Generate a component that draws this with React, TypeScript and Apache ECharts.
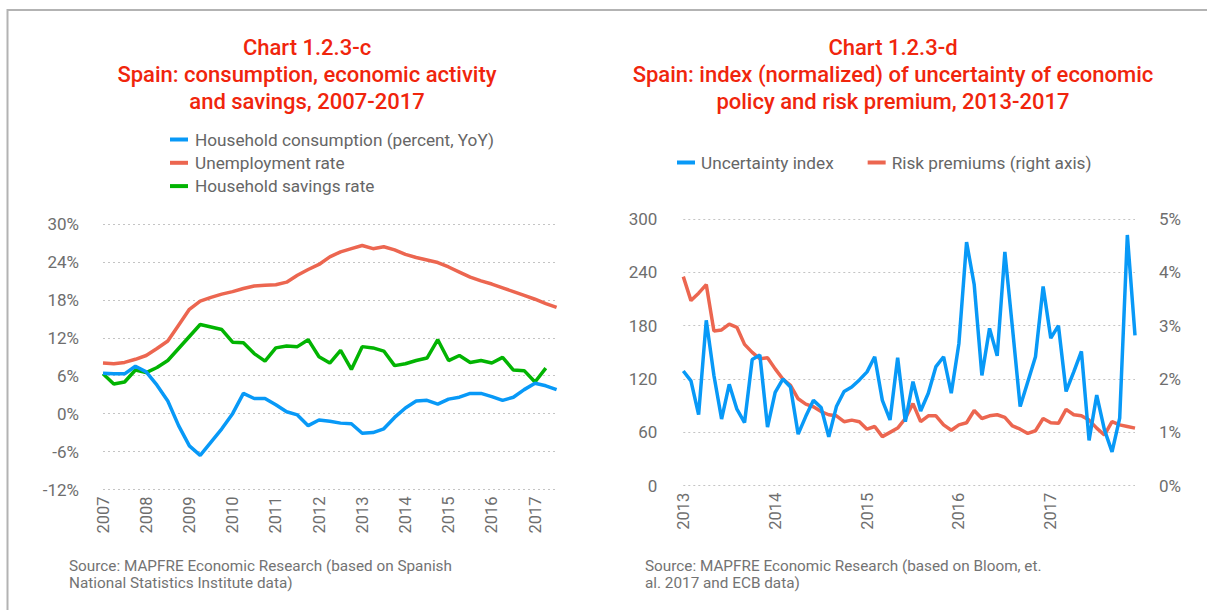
import React, { useEffect, useRef } from "react";
import * as echarts from "echarts";

// ---------- Left chart (quarterly, 2007Q1 - 2017Q3) ----------
const quarterYears = [2007, 2008, 2009, 2010, 2011, 2012, 2013, 2014, 2015, 2016, 2017];
const quarterCount = 43;
const consumption = [
  6.4, 6.3, 6.3, 7.5, 6.6, 4.5, 2.0, -1.9, -5.1, -6.6, -4.5, -2.4, 0.0, 3.2, 2.4, 2.4,
  1.4, 0.3, -0.2, -1.9, -1.0, -1.2, -1.5, -1.6, -3.1, -3.0, -2.4, -0.6, 0.9, 2.0, 2.1,
  1.5, 2.3, 2.6, 3.2, 3.2, 2.7, 2.1, 2.6, 3.8, 4.8, 4.4, 3.8,
];
const unemployment = [
  8.0, 7.9, 8.1, 8.6, 9.2, 10.3, 11.5, 14.0, 16.5, 17.8, 18.4, 18.9, 19.3, 19.8, 20.2,
  20.3, 20.4, 20.8, 21.9, 22.8, 23.6, 24.8, 25.6, 26.1, 26.6, 26.1, 26.4, 25.9, 25.2,
  24.7, 24.3, 23.9, 23.2, 22.4, 21.6, 21.0, 20.5, 19.9, 19.3, 18.7, 18.1, 17.4, 16.8,
];
const savings = [
  6.3, 4.7, 5.0, 6.9, 6.5, 7.3, 8.4, 10.3, 12.2, 14.1, 13.7, 13.3, 11.3, 11.2, 9.5, 8.3,
  10.4, 10.7, 10.6, 11.7, 9.0, 8.0, 10.0, 7.0, 10.6, 10.4, 9.9, 7.6, 7.9, 8.4, 8.8, 11.7,
  8.4, 9.2, 8.1, 8.4, 8.0, 8.9, 6.9, 6.8, 5.0, 7.2, null,
];
const leftTicks = [-12, -6, 0, 6, 12, 18, 24, 30];

// ---------- Right chart (monthly, Jan 2013 - Dec 2017) ----------
const monthYears = [2013, 2014, 2015, 2016, 2017];
const uncertainty = [
  129, 118, 80, 186, 124, 75, 114, 86, 71, 142, 147, 66, 105, 120, 111, 58, 78, 96, 88,
  55, 89, 106, 111, 119, 128, 145, 96, 74, 144, 72, 117, 84, 104, 134, 145, 104, 160,
  274, 226, 124, 177, 146, 263, 177, 89, 117, 145, 224, 166, 180, 106, 128, 151, 51,
  102, 63, 38, 76, 282, 169,
];
const riskPremium = [
  3.92, 3.47, 3.61, 3.77, 2.9, 2.92, 3.03, 2.97, 2.65, 2.5, 2.38, 2.4, 2.19, 2.0, 1.88,
  1.63, 1.53, 1.48, 1.39, 1.33, 1.31, 1.2, 1.23, 1.2, 1.06, 1.11, 0.92, 1.0, 1.08, 1.26,
  1.54, 1.2, 1.31, 1.31, 1.14, 1.04, 1.14, 1.18, 1.41, 1.26, 1.31, 1.33, 1.28, 1.12,
  1.06, 0.98, 1.03, 1.26, 1.18, 1.17, 1.43, 1.33, 1.31, 1.23, 1.08, 0.95, 1.2, 1.14,
  1.11, 1.08,
];

const quarterCats: string[] = [];
quarterYears.forEach((y) => {
  for (let q = 1; q <= 4; q++) quarterCats.push(`${y}-Q${q}`);
});
const quarterCategories = quarterCats.slice(0, quarterCount);

const monthCategories: string[] = [];
monthYears.forEach((y) => {
  for (let m = 1; m <= 12; m++) monthCategories.push(`${y}-${m < 10 ? "0" + m : m}`);
});

const FONT = "Roboto, 'DejaVu Sans', sans-serif";
const RED = "#f0250c";
const BLUE = "#0899f7";
const ORANGE = "#ec6650";
const GREEN = "#02b402";
const AXIS_TEXT = "#6e6e6e";
const GRID_LINE = { type: [2, 3] as any, color: "#c4c4c4", width: 1 };

export default function App() {
  const ref = useRef<HTMLDivElement>(null);

  useEffect(() => {
    if (!ref.current) return;
    const chart = echarts.init(ref.current, undefined, { renderer: "svg" });

    const option: any = {
      animation: false,
      backgroundColor: "#ffffff",
      textStyle: { fontFamily: FONT },
      graphic: [
        {
          type: "rect",
          shape: { x: 7.5, y: 10, width: 1400, height: 800 },
          style: { fill: "none", stroke: "#b3b3b3", lineWidth: 2 },
          silent: true,
        },
        {
          type: "text",
          x: 307,
          y: 34,
          style: {
            text: "Chart 1.2.3-c\nSpain: consumption, economic activity\nand savings, 2007-2017",
            align: "center",
            fill: RED,
            font: `500 22px ${FONT}`,
            lineHeight: 27,
          },
        },
        {
          type: "text",
          x: 893,
          y: 34,
          style: {
            text: "Chart 1.2.3-d\nSpain: index (normalized) of uncertainty of economic\npolicy and risk premium, 2013-2017",
            align: "center",
            fill: RED,
            font: `500 22px ${FONT}`,
            lineHeight: 27,
          },
        },
        {
          type: "text",
          x: 69,
          y: 557,
          style: {
            text: "Source: MAPFRE Economic Research (based on Spanish\nNational Statistics Institute data)",
            fill: "#737373",
            font: `15.3px ${FONT}`,
            lineHeight: 17.5,
          },
        },
        {
          type: "text",
          x: 645,
          y: 557,
          style: {
            text: "Source: MAPFRE Economic Research (based on Bloom, et.\nal. 2017 and ECB data)",
            fill: "#737373",
            font: `15.3px ${FONT}`,
            lineHeight: 17.5,
          },
        },
      ],
      legend: [
        {
          orient: "vertical",
          left: 165,
          top: 126,
          itemWidth: 18,
          itemHeight: 4,
          itemGap: 6.3,
          icon: "rect",
          data: [
            "Household consumption (percent, YoY)",
            "Unemployment rate",
            "Household savings rate",
          ],
          textStyle: {
            color: "#666666",
            fontSize: 17.2,
            lineHeight: 17,
            fontFamily: FONT,
            padding: [0, 0, 0, 2],
          },
        },
        {
          orient: "horizontal",
          left: 672,
          top: 149,
          itemWidth: 18,
          itemHeight: 4,
          itemGap: 34,
          icon: "rect",
          data: ["Uncertainty index", "Risk premiums (right axis)"],
          textStyle: {
            color: "#666666",
            fontSize: 17.2,
            lineHeight: 17,
            fontFamily: FONT,
            padding: [0, 0, 0, 1],
          },
        },
      ],
      grid: [
        { left: 103, top: 224, width: 453.6, height: 265.5 },
        { left: 683.3, top: 219, width: 451.7, height: 266.7 },
      ],
      xAxis: [
        {
          type: "category",
          gridIndex: 0,
          data: quarterCategories,
          boundaryGap: false,
          axisLine: { show: false },
          axisTick: { show: false },
          axisLabel: {
            interval: 3,
            rotate: 90,
            margin: 7,
            color: AXIS_TEXT,
            fontSize: 16.5,
            fontFamily: FONT,
            formatter: (v: string) => v.slice(0, 4),
          },
          splitLine: { show: false },
        },
        {
          type: "category",
          gridIndex: 1,
          data: monthCategories,
          boundaryGap: false,
          axisLine: { show: false },
          axisTick: { show: false },
          axisLabel: {
            interval: 11,
            rotate: 90,
            margin: 7,
            color: AXIS_TEXT,
            fontSize: 16.5,
            fontFamily: FONT,
            formatter: (v: string) => v.slice(0, 4),
          },
          splitLine: { show: false },
        },
      ],
      yAxis: [
        {
          type: "value",
          gridIndex: 0,
          min: leftTicks[0],
          max: leftTicks[leftTicks.length - 1],
          interval: 6,
          axisLine: { show: false },
          axisTick: { show: false },
          axisLabel: {
            margin: 24,
            color: AXIS_TEXT,
            fontSize: 17,
            fontFamily: FONT,
            formatter: "{value}%",
          },
          splitLine: { show: true, lineStyle: GRID_LINE },
        },
        {
          type: "value",
          gridIndex: 1,
          min: 0,
          max: 300,
          interval: 60,
          axisLine: { show: false },
          axisTick: { show: false },
          axisLabel: {
            margin: 26,
            color: AXIS_TEXT,
            fontSize: 17,
            fontFamily: FONT,
          },
          splitLine: { show: true, lineStyle: GRID_LINE },
        },
        {
          type: "value",
          gridIndex: 1,
          position: "right",
          min: 0,
          max: 5,
          interval: 1,
          axisLine: { show: false },
          axisTick: { show: false },
          axisLabel: {
            margin: 24,
            color: AXIS_TEXT,
            fontSize: 17,
            fontFamily: FONT,
            formatter: "{value}%",
          },
          splitLine: { show: false },
        },
      ],
      series: [
        {
          name: "Household consumption (percent, YoY)",
          type: "line",
          xAxisIndex: 0,
          yAxisIndex: 0,
          data: consumption,
          symbol: "none",
          color: BLUE,
          lineStyle: { width: 3.5, color: BLUE },
          z: 3,
        },
        {
          name: "Unemployment rate",
          type: "line",
          xAxisIndex: 0,
          yAxisIndex: 0,
          data: unemployment,
          symbol: "none",
          color: ORANGE,
          lineStyle: { width: 3.5, color: ORANGE },
          z: 2,
        },
        {
          name: "Household savings rate",
          type: "line",
          xAxisIndex: 0,
          yAxisIndex: 0,
          data: savings,
          symbol: "none",
          color: GREEN,
          lineStyle: { width: 3.5, color: GREEN },
          z: 2,
        },
        {
          name: "Uncertainty index",
          type: "line",
          xAxisIndex: 1,
          yAxisIndex: 1,
          data: uncertainty,
          symbol: "none",
          color: BLUE,
          lineStyle: { width: 3.5, color: BLUE },
          z: 3,
        },
        {
          name: "Risk premiums (right axis)",
          type: "line",
          xAxisIndex: 1,
          yAxisIndex: 2,
          data: riskPremium,
          symbol: "none",
          color: ORANGE,
          lineStyle: { width: 3.5, color: ORANGE },
          z: 2,
        },
      ],
    };

    chart.setOption(option);
    return () => {
      chart.dispose();
    };
  }, []);

  return (
    <div
      ref={ref}
      style={{ position: "absolute", left: 0, top: 0, width: 1207, height: 610 }}
    />
  );
}
